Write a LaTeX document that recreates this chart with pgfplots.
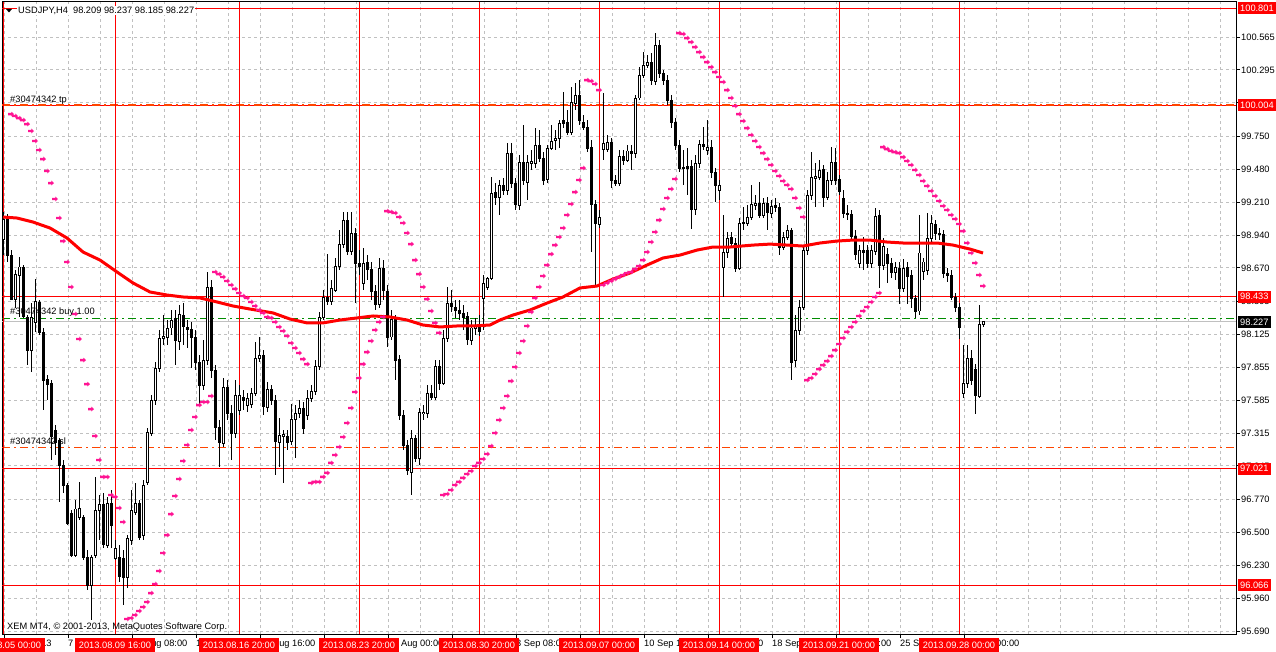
\documentclass[border=0pt]{standalone}
\usepackage{fontspec}
\setmainfont{Liberation Sans}
\usepackage{pgfplots}
\usepackage{pgfplotstable}
\pgfplotsset{compat=1.18}
\definecolor{mtred}{RGB}{255,0,0}
\definecolor{sarpink}{RGB}{255,20,147}
\definecolor{gridgray}{RGB}{192,192,192}
\definecolor{orred}{RGB}{255,69,0}
\definecolor{mtgreen}{RGB}{0,140,0}
\pgfdeclareplotmark{sar}{%
  \pgfpathrectangle{\pgfqpoint{-2.8bp}{-1.2bp}}{\pgfqpoint{3.2bp}{2.4bp}}%
  \pgfpathmoveto{\pgfqpoint{0.4bp}{-2.4bp}}%
  \pgfpathlineto{\pgfqpoint{3.0bp}{0bp}}%
  \pgfpathlineto{\pgfqpoint{0.4bp}{2.4bp}}%
  \pgfpathclose
  \pgfusepathqfill}

\pgfplotstableread{
i o h l c
0 98.907 99.130 98.776 99.072
1 99.097 99.113 98.719 98.776
2 98.776 98.817 98.407 98.415
3 98.415 98.653 98.341 98.620
4 98.612 98.760 98.268 98.678
5 98.678 98.694 98.260 98.268
6 98.268 98.284 97.873 97.996
7 97.996 98.382 97.816 98.268
8 98.227 98.579 98.145 98.399
9 98.391 98.407 98.120 98.145
10 98.145 98.180 97.504 97.750
11 97.758 97.791 97.586 97.717
12 97.725 97.750 97.094 97.283
13 97.340 97.381 97.135 97.234
14 97.258 97.274 96.750 97.053
15 97.053 97.094 96.823 96.889
16 96.889 96.905 96.560 96.576
17 96.658 96.683 96.298 96.314
18 96.314 96.766 96.298 96.692
19 96.626 96.914 96.601 96.700
20 96.626 96.642 96.273 96.298
21 96.298 96.355 96.027 96.068
22 96.068 96.314 95.781 96.298
23 96.314 96.955 96.289 96.683
24 96.683 96.807 96.437 96.733
25 96.733 96.823 96.371 96.404
26 96.396 96.791 96.371 96.741
27 96.741 96.848 96.371 96.560
28 96.289 96.437 96.273 96.371
29 96.298 96.396 96.093 96.134
30 96.289 96.355 95.904 96.134
31 96.134 96.478 96.043 96.453
32 96.437 96.848 96.396 96.683
33 96.667 96.905 96.642 96.741
34 96.741 96.766 96.437 96.462
35 96.478 96.930 96.437 96.889
36 96.914 97.356 96.889 97.324
37 97.315 97.627 97.291 97.586
38 97.586 97.898 97.545 97.849
39 97.849 98.161 97.816 98.095
40 98.095 98.284 98.038 98.112
41 98.104 98.243 98.038 98.178
42 98.178 98.325 98.120 98.243
43 98.260 98.325 97.873 98.079
44 98.063 98.366 97.996 98.284
45 98.284 98.382 98.038 98.186
46 98.186 98.243 98.013 98.169
47 98.169 98.227 97.849 98.104
48 98.104 98.161 97.832 97.898
49 97.898 97.955 97.545 97.709
50 97.709 98.079 97.668 97.914
51 97.914 98.637 97.873 98.514
52 98.514 98.571 97.767 97.832
53 97.832 97.873 97.258 97.365
54 97.365 97.422 97.037 97.234
55 97.234 97.767 97.201 97.693
56 97.693 97.750 97.422 97.479
57 97.479 97.545 97.094 97.315
58 97.315 97.750 97.274 97.627
59 97.504 97.709 97.463 97.627
60 97.611 97.668 97.504 97.586
61 97.545 97.644 97.488 97.602
62 97.553 97.685 97.521 97.644
63 97.644 98.063 97.619 97.931
64 97.931 98.104 97.898 97.955
65 97.955 97.996 97.463 97.529
66 97.529 97.734 97.488 97.676
67 97.676 97.709 97.545 97.586
68 97.586 97.627 96.971 97.242
69 97.242 97.438 97.037 97.299
70 97.291 97.340 96.905 97.307
71 97.291 97.340 97.176 97.242
72 97.242 97.553 97.217 97.430
73 97.430 97.545 97.110 97.479
74 97.479 97.586 97.438 97.521
75 97.521 97.570 97.307 97.356
76 97.463 97.668 97.422 97.602
77 97.602 97.709 97.570 97.660
78 97.660 97.914 97.627 97.865
79 97.865 98.309 97.832 98.268
80 98.268 98.489 98.243 98.432
81 98.432 98.784 98.366 98.399
82 98.399 98.571 98.366 98.506
83 98.489 98.752 98.473 98.686
84 98.686 98.981 98.653 98.866
85 98.866 99.130 98.833 99.063
86 99.063 99.130 98.776 98.809
87 98.809 99.130 98.776 98.957
88 98.957 98.998 98.382 98.710
89 98.710 98.817 98.612 98.686
90 98.547 98.833 98.489 98.710
91 98.719 98.776 98.571 98.661
92 98.661 98.719 98.407 98.481
93 98.481 98.530 98.325 98.374
94 98.374 98.752 98.341 98.669
95 98.669 98.735 98.407 98.481
96 98.481 98.530 98.021 98.104
97 98.104 98.325 98.079 98.251
98 98.251 98.284 97.750 97.914
99 97.922 97.955 97.422 97.463
100 97.463 97.504 97.176 97.217
101 97.217 97.258 96.971 97.012
102 96.996 97.340 96.807 97.274
103 97.274 97.299 97.078 97.110
104 97.110 97.521 97.053 97.488
105 97.479 97.545 97.422 97.488
106 97.479 97.709 97.438 97.644
107 97.644 97.709 97.586 97.611
108 97.611 97.914 97.586 97.865
109 97.865 97.914 97.668 97.726
110 97.726 98.161 97.709 98.095
111 98.095 98.514 98.063 98.382
112 98.382 98.489 98.309 98.350
113 98.350 98.407 98.260 98.325
114 98.325 98.407 98.243 98.301
115 98.301 98.366 98.161 98.268
116 98.268 98.309 98.038 98.079
117 98.079 98.243 98.038 98.178
118 98.178 98.260 98.120 98.202
119 98.202 98.284 98.112 98.145
120 98.424 98.612 98.161 98.547
121 98.514 98.596 98.489 98.588
122 98.588 99.416 98.571 99.285
123 99.285 99.367 99.187 99.244
124 99.252 99.392 99.105 99.351
125 99.351 99.408 99.269 99.310
126 99.310 99.695 99.269 99.613
127 99.613 99.695 99.326 99.367
128 99.367 99.408 99.146 99.187
129 99.187 99.597 99.146 99.539
130 99.539 99.843 99.351 99.392
131 99.375 99.597 99.228 99.539
132 99.531 99.638 99.474 99.548
133 99.531 99.818 99.490 99.679
134 99.679 99.802 99.539 99.572
135 99.572 99.621 99.351 99.392
136 99.400 99.679 99.367 99.654
137 99.654 99.843 99.638 99.712
138 99.720 99.802 99.638 99.736
139 99.736 99.884 99.654 99.859
140 99.884 100.114 99.818 99.859
141 99.868 99.966 99.761 99.786
142 99.786 100.155 99.761 100.032
143 100.024 100.188 99.966 100.089
144 100.089 100.212 99.843 99.884
145 99.868 99.925 99.802 99.827
146 99.827 99.884 99.621 99.654
147 99.663 99.720 98.801 99.187
148 99.187 99.228 98.514 99.031
149 99.031 99.146 98.998 99.088
150 99.646 100.106 99.556 99.695
151 99.646 99.761 99.621 99.703
152 99.703 99.736 99.326 99.392
153 99.392 99.433 99.343 99.367
154 99.367 99.638 99.343 99.588
155 99.588 99.638 99.515 99.556
156 99.556 99.679 99.539 99.630
157 99.630 99.679 99.474 99.613
158 99.613 100.089 99.572 100.065
159 100.065 100.319 100.048 100.253
160 100.253 100.442 100.229 100.335
161 100.335 100.418 100.311 100.360
162 100.360 100.434 100.171 100.212
163 100.204 100.598 100.171 100.500
164 100.500 100.541 100.229 100.270
165 100.270 100.295 100.171 100.212
166 100.212 100.253 100.007 100.048
167 100.048 100.089 99.818 99.868
168 99.868 99.900 99.638 99.679
169 99.679 99.720 99.457 99.490
170 99.498 99.638 99.351 99.490
171 99.506 99.654 99.269 99.490
172 99.506 99.556 98.990 99.146
173 99.154 99.597 99.105 99.531
174 99.531 99.720 99.490 99.687
175 99.687 99.827 99.638 99.663
176 99.638 99.884 99.597 99.663
177 99.663 99.720 99.408 99.457
178 99.457 99.490 99.211 99.351
179 99.310 99.392 99.228 99.351
180 98.678 99.105 98.432 98.801
181 98.801 98.965 98.752 98.916
182 98.924 98.965 98.833 98.875
183 98.875 98.916 98.637 98.669
184 98.669 99.080 98.653 99.039
185 99.039 99.170 98.981 99.047
186 99.039 99.187 99.014 99.088
187 99.088 99.351 99.063 99.195
188 99.187 99.269 99.146 99.203
189 99.203 99.375 99.080 99.105
190 99.105 99.244 99.080 99.203
191 99.203 99.252 98.981 99.130
192 99.113 99.228 99.080 99.178
193 99.187 99.244 99.130 99.170
194 99.170 99.203 98.776 98.842
195 98.842 98.965 98.817 98.924
196 98.924 99.022 98.899 98.981
197 98.981 98.998 97.750 97.898
198 97.914 98.284 97.857 98.161
199 98.161 98.407 98.120 98.350
200 98.350 98.858 98.325 98.817
201 98.817 99.310 98.776 99.269
202 99.269 99.621 99.228 99.416
203 99.408 99.531 99.170 99.424
204 99.416 99.556 99.392 99.474
205 99.482 99.515 99.170 99.252
206 99.252 99.457 99.228 99.392
207 99.392 99.663 99.351 99.539
208 99.539 99.654 99.351 99.392
209 99.400 99.433 99.269 99.302
210 99.244 99.310 99.080 99.121
211 99.121 99.187 99.063 99.113
212 99.113 99.146 98.899 98.932
213 98.932 98.981 98.735 98.784
214 98.710 98.858 98.669 98.809
215 98.817 98.924 98.653 98.801
216 98.817 98.858 98.669 98.710
217 98.710 98.858 98.669 98.809
218 98.809 99.162 98.776 99.096
219 99.105 99.146 98.506 98.694
220 98.694 98.916 98.653 98.850
221 98.784 98.833 98.547 98.710
222 98.710 98.752 98.588 98.629
223 98.637 98.719 98.571 98.678
224 98.669 98.719 98.374 98.506
225 98.506 98.743 98.473 98.669
226 98.678 98.719 98.374 98.604
227 98.612 98.653 98.341 98.424
228 98.424 98.448 98.260 98.317
229 98.317 99.105 98.284 98.793
230 98.645 98.752 98.571 98.719
231 98.653 99.121 98.612 98.916
232 98.916 99.105 98.883 99.039
233 99.031 99.063 98.899 98.957
234 98.957 98.998 98.899 98.949
235 98.949 98.981 98.588 98.629
236 98.629 98.669 98.555 98.612
237 98.612 98.653 98.407 98.432
238 98.432 98.465 98.309 98.350
239 98.350 98.382 98.087 98.186
240 97.644 98.038 97.602 97.726
241 97.726 98.038 97.685 97.931
242 97.931 97.996 97.709 97.750
243 97.840 97.881 97.471 97.619
244 97.619 98.366 97.602 98.210
245 98.209 98.237 98.185 98.227
}\candles

\pgfplotstableread{
i p
2 99.933
3 99.917
4 99.900
5 99.884
6 99.851
7 99.794
8 99.712
9 99.638
10 99.564
11 99.466
12 99.367
13 99.236
14 99.080
15 98.891
16 98.719
17 98.514
18 98.292
19 98.087
20 97.914
21 97.717
22 97.512
23 97.291
24 97.094
25 96.955
26 96.955
27 96.807
28 96.791
29 96.700
30 96.585
31 95.789
32 95.797
33 95.822
34 95.855
35 95.888
36 95.929
37 96.002
38 96.076
39 96.183
40 96.331
41 96.478
42 96.650
43 96.799
44 96.938
45 97.086
46 97.217
47 97.340
48 97.447
49 97.545
50 97.570
51 97.570
52 97.619
53 98.637
54 98.620
55 98.596
56 98.563
57 98.530
58 98.498
59 98.465
60 98.440
61 98.424
62 98.391
63 98.358
64 98.325
65 98.301
66 98.268
67 98.260
68 98.227
69 98.186
70 98.153
71 98.112
72 98.054
73 98.013
74 97.972
75 97.922
76 97.881
77 96.905
78 96.914
79 96.914
80 96.955
81 96.988
82 97.070
83 97.135
84 97.201
85 97.283
86 97.398
87 97.521
88 97.652
89 97.767
90 97.881
91 97.980
92 98.071
93 98.161
94 98.227
95 98.268
96 99.137
97 99.130
98 99.121
99 99.088
100 99.039
101 98.957
102 98.866
103 98.735
104 98.620
105 98.514
106 98.415
107 98.317
108 98.219
109 98.137
110 96.807
111 96.815
112 96.848
113 96.889
114 96.914
115 96.947
116 96.979
117 97.004
118 97.045
119 97.070
120 97.102
121 97.143
122 97.209
123 97.316
124 97.422
125 97.521
126 97.619
127 97.742
128 97.857
129 97.972
130 98.071
131 98.194
132 98.309
133 98.424
134 98.514
135 98.604
136 98.694
137 98.784
138 98.858
139 98.924
140 98.998
141 99.105
142 99.195
143 99.293
144 99.392
145 99.490
146 100.212
147 100.204
148 100.180
149 100.130
150 98.530
151 98.547
152 98.563
153 98.580
154 98.596
155 98.612
156 98.629
157 98.637
158 98.661
159 98.686
160 98.735
161 98.801
162 98.883
163 98.965
164 99.063
165 99.154
166 99.244
167 99.318
168 99.400
169 100.598
170 100.590
171 100.557
172 100.524
173 100.483
174 100.442
175 100.401
176 100.360
177 100.319
178 100.278
179 100.237
180 100.196
181 100.130
182 100.065
183 99.999
184 99.933
185 99.876
186 99.818
187 99.761
188 99.712
189 99.663
190 99.613
191 99.564
192 99.515
193 99.466
194 99.425
195 99.384
196 99.351
197 99.318
198 99.244
199 99.162
200 99.088
201 97.750
202 97.767
203 97.800
204 97.840
205 97.873
206 97.906
207 97.947
208 97.996
209 98.046
210 98.095
211 98.145
212 98.186
213 98.227
214 98.276
215 98.317
216 98.350
217 98.391
218 98.432
219 98.465
220 99.662
221 99.646
222 99.630
223 99.621
224 99.613
225 99.580
226 99.548
227 99.515
228 99.474
229 99.433
230 99.384
231 99.343
232 99.302
233 99.261
234 99.220
235 99.179
236 99.146
237 99.105
238 99.072
239 99.031
240 98.973
241 98.875
242 98.793
243 98.711
244 98.612
245 98.522
}\sar

\pgfplotstableread{
i m
0 99.088
3.5 99.080
7.5 99.047
11.75 98.998
16 98.916
20 98.801
24.25 98.735
28.5 98.637
32.5 98.547
36.75 98.473
41 98.448
45 98.432
49.25 98.424
53.5 98.391
57.5 98.358
61.75 98.333
67.5 98.301
71.75 98.251
76 98.219
80 98.219
84.25 98.243
88.5 98.260
92.5 98.276
96.75 98.268
101 98.243
105 98.202
109.25 98.186
113.5 98.194
117.5 98.194
121.75 98.202
124.25 98.243
127.5 98.284
131.75 98.325
136 98.382
140 98.432
144.25 98.506
148.5 98.522
152.5 98.579
156.75 98.629
161 98.694
165 98.752
169.25 98.776
173.5 98.817
177.5 98.842
181.75 98.842
187.5 98.858
191.75 98.866
196 98.858
200 98.850
204.25 98.875
208.5 98.891
212.5 98.899
216.75 98.899
221 98.883
225 98.875
229.25 98.875
233.5 98.875
237.5 98.858
241.75 98.825
245 98.793
}\ma

\newcommand{\mtfont}{\fontsize{9.3}{10}\selectfont}

\begin{document}
\begin{tikzpicture}
\begin{axis}[
  at={(2bp,650bp)}, anchor=north west,
  scale only axis, width=1234bp, height=632bp,
  xmin=-0.25, xmax=308.25, ymin=95.666, ymax=100.853,
  axis line style={black, line width=1bp},
  tick align=outside, major tick length=4bp, minor tick length=0pt,
  xtick pos=bottom, ytick pos=right,
  tick style={black, line width=1bp},
  xtick={0.25,16.25,32.25,48.25,64.25,80.25,96.25,112.25,128.25,144.25,160.25,176.25,192.25,208.25,224.25,240.25},
  xticklabels={5 Aug 2013,7 Aug 16:00,12 Aug 08:00,15 Aug 00:00,19 Aug 16:00,22 Aug 08:00,27 Aug 00:00,29 Aug 16:00,3 Sep 08:00,6 Sep 00:00,10 Sep 16:00,13 Sep 08:00,18 Sep 00:00,20 Sep 16:00,25 Sep 08:00,30 Sep 00:00},
  minor xtick={8.25,24.25,40.25,56.25,72.25,88.25,104.25,120.25,136.25,152.25,168.25,184.25,200.25,216.25,232.25,248.25,256.25,264.25,272.25,280.25,288.25,296.25,304.25},
  ytick={95.690,95.960,96.230,96.500,96.770,97.045,97.315,97.585,97.855,98.125,98.395,98.670,98.940,99.210,99.480,99.750,100.025,100.295,100.565},
  yticklabels={95.690,95.960,96.230,96.500,96.770,97.045,97.315,97.585,97.855,98.125,98.395,98.670,98.940,99.210,99.480,99.750,100.025,100.295,100.565},
  grid=both,
  major grid style={gridgray, line width=1bp, dash pattern=on 3bp off 3bp},
  minor grid style={gridgray, line width=1bp, dash pattern=on 3bp off 3bp},
  ticklabel style={font=\mtfont, text=black},
  xticklabel style={anchor=north west, inner sep=0pt, yshift=-1.5bp},
  yticklabel style={anchor=west, inner sep=0pt, xshift=1bp},
]
% level lines
\addplot[mtred, line width=1bp] coordinates {(-0.25,100.801) (308.25,100.801)};
\addplot[mtred, line width=1bp] coordinates {(-0.25,100.004) (308.25,100.004)};
\addplot[orred, line width=2bp, dash pattern=on 8bp off 4bp on 2bp off 4bp] coordinates {(-0.25,100.004) (308.25,100.004)};
\addplot[mtred, line width=1bp] coordinates {(-0.25,98.433) (308.25,98.433)};
\addplot[gridgray, line width=1bp] coordinates {(-0.25,98.227) (308.25,98.227)};
\addplot[mtgreen, line width=1.3bp, dash pattern=on 8bp off 4bp on 2bp off 4bp] coordinates {(-0.25,98.258) (308.25,98.258)};
\addplot[orred, line width=1bp, dash pattern=on 8bp off 4bp on 2bp off 4bp] coordinates {(-0.25,97.198) (308.25,97.198)};
\addplot[mtred, line width=1bp] coordinates {(-0.25,97.021) (308.25,97.021)};
\addplot[mtred, line width=1bp] coordinates {(-0.25,96.066) (308.25,96.066)};
% vertical separators
\addplot[mtred, line width=1bp] coordinates {(0,95.666) (0,100.853)};
\addplot[mtred, line width=1bp] coordinates {(28,95.666) (28,100.853)};
\addplot[mtred, line width=1bp] coordinates {(59,95.666) (59,100.853)};
\addplot[mtred, line width=1bp] coordinates {(89,95.666) (89,100.853)};
\addplot[mtred, line width=1bp] coordinates {(119,95.666) (119,100.853)};
\addplot[mtred, line width=1bp] coordinates {(149,95.666) (149,100.853)};
\addplot[mtred, line width=1bp] coordinates {(179,95.666) (179,100.853)};
\addplot[mtred, line width=1bp] coordinates {(209,95.666) (209,100.853)};
\addplot[mtred, line width=1bp] coordinates {(239,95.666) (239,100.853)};
% candles: wicks
\addplot[draw=none, mark=none, error bars/.cd, y dir=both, y explicit, error mark=none,
  error bar style={draw=black, solid, line width=1bp}]
  table[x=i, y expr={(\thisrow{h}+\thisrow{l})/2}, y error expr={(\thisrow{h}-\thisrow{l})/2}] {\candles};
% bodies (black outline)
\addplot[draw=none, mark=none, error bars/.cd, y dir=both, y explicit, error mark=none,
  error bar style={draw=black, solid, line width=3bp}]
  table[x=i, y expr={(\thisrow{o}+\thisrow{c})/2}, y error expr={abs(\thisrow{o}-\thisrow{c})/2+0.004}] {\candles};
% bullish interiors
\addplot[draw=none, mark=none, error bars/.cd, y dir=both, y explicit, error mark=none,
  error bar style={draw=white, solid, line width=1bp}]
  table[x=i, y expr={(\thisrow{o}+\thisrow{c})/2}, y error expr={max((\thisrow{c}-\thisrow{o})/2-0.004,0)}] {\candles};
% moving average
\addplot[mtred, line width=3bp, mark=none] table[x=i, y=m] {\ma};
% parabolic SAR
\addplot[only marks, mark=sar, color=sarpink, mark options={fill=sarpink, draw=none}] table[x=i, y=p] {\sar};
\end{axis}
% header
\fill[black] (6bp,643bp) -- (12bp,643bp) -- (9bp,639.5bp) -- cycle;
\node[anchor=west, fill=white, inner sep=1bp, font=\mtfont] at (17bp,641.5bp) {USDJPY,H4\ \ 98.209 98.237 98.185 98.227};
% order labels
\node[anchor=west, inner sep=0pt, font=\mtfont] at (10bp,552bp) {\#30474342 tp};
\node[anchor=west, inner sep=0pt, font=\mtfont] at (10bp,340bp) {\#30474342 buy 1.00};
\node[anchor=west, inner sep=0pt, font=\mtfont] at (10bp,211bp) {\#30474342 sl};
\node[anchor=west, inner sep=0pt, font=\mtfont] at (7bp,25bp) {XEM MT4, © 2001-2013, MetaQuotes Software Corp.};
% right price boxes
\tikzset{pbox/.style={anchor=west, inner xsep=2bp, inner ysep=0pt, minimum height=12bp, text=white, font=\mtfont}}
\node[pbox, fill=mtred] at (1238bp,643.8bp) {100.801};
\node[pbox, fill=mtred] at (1238bp,546.6bp) {100.004};
\node[pbox, fill=mtred] at (1238bp,355.2bp) {98.433};
\node[pbox, fill=black] at (1238bp,330.1bp) {98.227};
\node[pbox, fill=mtred] at (1238bp,183.2bp) {97.021};
\node[pbox, fill=mtred] at (1238bp,66.8bp) {96.066};
% time boxes
\tikzset{tbox/.style={inner xsep=3.5bp, inner ysep=0pt, minimum height=14bp, text=white, fill=mtred, font=\mtfont}}
\node[tbox] at (5bp,7bp) {2013.08.05 00:00};
\node[tbox] at (115bp,7bp) {2013.08.09 16:00};
\node[tbox] at (239bp,7bp) {2013.08.16 20:00};
\node[tbox] at (359bp,7bp) {2013.08.23 20:00};
\node[tbox] at (479bp,7bp) {2013.08.30 20:00};
\node[tbox] at (599bp,7bp) {2013.09.07 00:00};
\node[tbox] at (719bp,7bp) {2013.09.14 00:00};
\node[tbox] at (839bp,7bp) {2013.09.21 00:00};
\node[tbox] at (959bp,7bp) {2013.09.28 00:00};
\pgfresetboundingbox
\path[use as bounding box] (0,0) rectangle (1276bp,652bp);
\end{tikzpicture}
\end{document}
